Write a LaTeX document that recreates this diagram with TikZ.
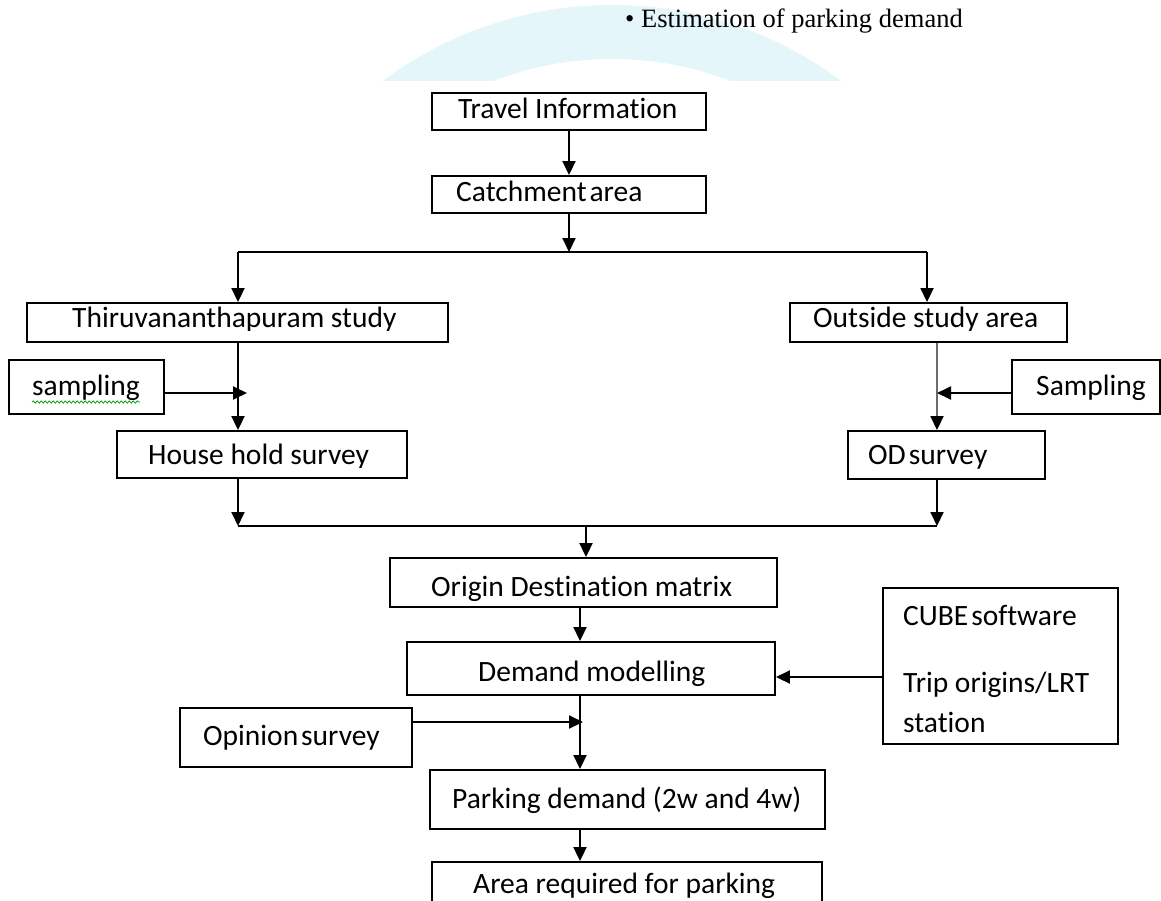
\documentclass[tikz,border=0pt]{standalone}
\usepackage{fontspec}
\setmainfont{Carlito}[Ligatures={NoCommon}]
\newfontfamily\timesf{Liberation Serif}
\usetikzlibrary{arrows.meta,decorations.pathmorphing}
\definecolor{wmark}{RGB}{228,246,250}
\newcommand\nsp{\hspace{0.1em}}
\begin{document}
\begin{tikzpicture}[x=1pt,y=-1pt,
  box/.style={draw, line width=1.9pt, rectangle, inner sep=0pt},
  lbl/.style={anchor=base west, inner sep=0pt, font=\fontsize{29.5}{34}\selectfont},
  arr/.style={-{Triangle[width=13pt,length=14pt]}, line width=1.9pt},
  ln/.style={line width=1.9pt}]
\useasboundingbox (0,0) rectangle (1161,900);
\clip (0,0) rectangle (1161,900);
% faint watermark
\begin{scope}
\clip (0,0) rectangle (1161,80);
\fill[wmark, even odd rule] (612,389) circle (384) (612,389) circle (330);
\end{scope}
% bullet heading
\node[anchor=base west, inner sep=0pt, font=\timesf\fontsize{26.5}{30}\selectfont] (bul) at (625,27) {\textbullet\hspace{0.25em}Estimation of parking demand};
% boxes
\node[box, minimum width=274, minimum height=37] (ti) at (569,111.5) {};
\node[box, minimum width=274, minimum height=37] (ca) at (569,194.5) {};
\node[box, minimum width=421, minimum height=39] (th) at (237.5,322.5) {};
\node[box, minimum width=277, minimum height=39] (os) at (928.5,322.5) {};
\node[box, minimum width=155, minimum height=54] (sl) at (86.5,387) {};
\node[box, minimum width=148, minimum height=54] (sr) at (1086,387) {};
\node[box, minimum width=290, minimum height=47] (hh) at (262,454.5) {};
\node[box, minimum width=197, minimum height=48] (od) at (946.5,455) {};
\node[box, minimum width=387, minimum height=49] (om) at (583.5,582.5) {};
\node[box, minimum width=368, minimum height=53] (dm) at (591,668.5) {};
\node[box, minimum width=235, minimum height=156] (cu) at (1000.5,666) {};
\node[box, minimum width=232, minimum height=59] (op) at (296,737.5) {};
\node[box, minimum width=395, minimum height=59] (pd) at (627.5,799.5) {};
\node[box, minimum width=390, minimum height=60] (ar) at (627,892) {};
% texts
\node[lbl] (tti) at (458,118) {Travel Information};
\node[lbl] (tca) at (456,201) {Catchment\nsp area};
\begin{scope}
\clip (th.north west) rectangle ([yshift=12pt]th.south east);
\node[lbl] (tth) at (72,327) {Thiruvananthapuram study};
\end{scope}
\begin{scope}
\clip (os.north west) rectangle ([yshift=12pt]os.south east);
\node[lbl] (tos) at (813,327) {Outside study area};
\end{scope}
\node[lbl] (tsl) at (32,395) {sampling};
\node[lbl] (tsr) at (1036,395) {Sampling};
\begin{scope}
\clip (hh.north west) rectangle ([yshift=11pt]hh.south east);
\node[lbl] (thh) at (148,464) {House hold survey};
\end{scope}
\begin{scope}
\clip (od.north west) rectangle ([yshift=11pt]od.south east);
\node[lbl] (tod) at (868,464) {OD\nsp survey};
\end{scope}
\begin{scope}
\clip (om.north west) rectangle ([yshift=6pt]om.south east);
\node[lbl] (tom) at (431,596) {Origin Destination matrix};
\end{scope}
\begin{scope}
\clip (dm.north west) rectangle ([yshift=8pt]dm.south east);
\node[lbl] (tdm) at (478,681) {Demand modelling};
\end{scope}
\node[lbl] (tcu1) at (903,625) {CUBE\nsp software};
\node[lbl] (tcu2) at (903,692) {Trip origins/LRT};
\node[lbl] (tcu3) at (903,732) {station};
\node[lbl] (top) at (203,745) {Opinion\nsp survey};
\node[lbl] (tpd) at (452,808) {Parking demand (2w and 4w)};
\node[lbl] (tar) at (473,893) {Area required for parking};
% spell-check squiggle
\draw[green!60!black, line width=0.7pt, decorate, decoration={snake, amplitude=1.2pt, segment length=4pt}] ([yshift=-7pt]tsl.base west) -- ([yshift=-7pt]tsl.base east);
% junction coordinates
\coordinate (jL) at (238,252);
\coordinate (jR) at (927,252);
\coordinate (jC) at (569,252);
\coordinate (xR) at (937,0);
\coordinate (bL) at (238,526);
\coordinate (bR) at (937,526);
\coordinate (bC) at (586,526);
\coordinate (m) at (580,0);
\coordinate (tipL) at (247,393);
\coordinate (tipR) at (937,393);
\coordinate (yC) at (0,677);
\coordinate (tipO) at (583,722);
% connectors
\draw[arr] (ti.south) -- (ca.north);
\draw[arr] (ca.south) -- (jC);
\draw[ln] (jL) -- (jR);
\draw[arr] (jL) -- (jL |- th.north);
\draw[arr] (jR) -- (jR |- os.north);
\draw[arr] (jL |- th.south) -- (jL |- hh.north);
\draw[arr] (sl.east |- tipL) -- (tipL);
\draw[-{Triangle[width=13pt,length=14pt,color=black]}, line width=1.9pt, draw=gray!85!black] (xR |- os.south) -- (xR |- od.north);
\draw[arr] (sr.west |- tipR) -- (tipR);
\draw[arr] (bL |- hh.south) -- (bL);
\draw[arr] (bR |- od.south) -- (bR);
\draw[ln] (bL) -- (bR);
\draw[arr] (bC) -- (bC |- om.north);
\draw[arr] (m |- om.south) -- (m |- dm.north);
\draw[arr] (cu.west |- yC) -- (dm.east |- yC);
\draw[arr] (op.east |- tipO) -- (tipO);
\draw[arr] (m |- dm.south) -- (m |- pd.north);
\draw[arr] (m |- pd.south) -- (m |- ar.north);
\end{tikzpicture}
\end{document}
